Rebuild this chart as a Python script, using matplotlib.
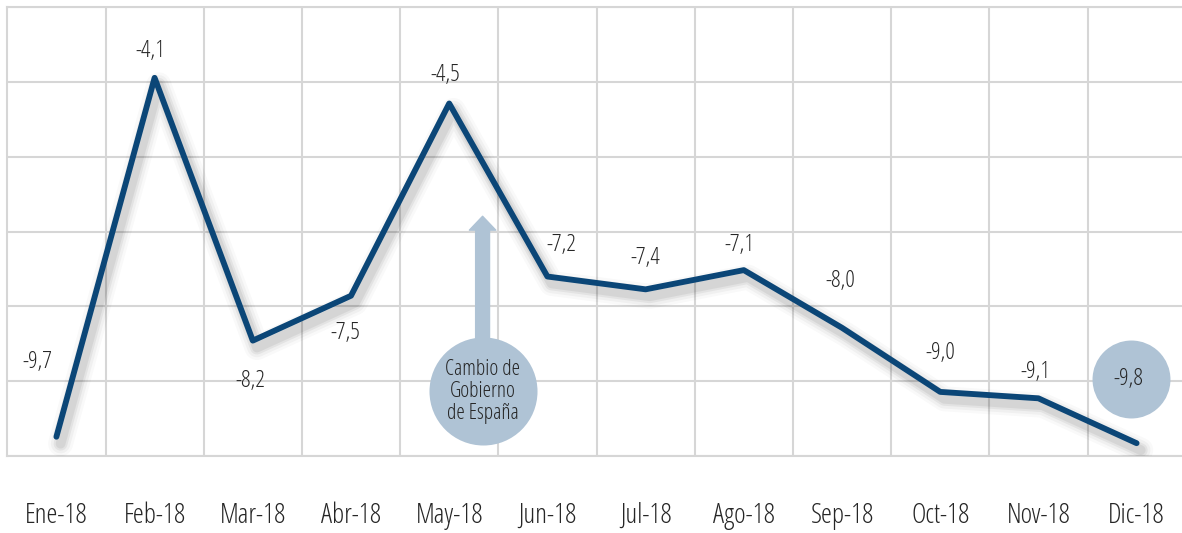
import numpy as np
import matplotlib
matplotlib.use('Agg')
import matplotlib.pyplot as plt
import matplotlib.patheffects as pe
from matplotlib.transforms import offset_copy

# Datos
meses = ['Ene-18', 'Feb-18', 'Mar-18', 'Abr-18', 'May-18', 'Jun-18',
         'Jul-18', 'Ago-18', 'Sep-18', 'Oct-18', 'Nov-18', 'Dic-18']
valores = [-9.7, -4.1, -8.2, -7.5, -4.5, -7.2, -7.4, -7.1, -8.0, -9.0, -9.1, -9.8]

# desplazamiento de cada etiqueta respecto a su punto (puntos tipograficos)
etiqueta_dx = [-14, -3.5, -1.5, -4, -3, 10, 0, -3.5, -1.5, 0, -2.5, -6]
etiqueta_dy = [54, 19, -29, -27, 20.5, 22.5, 22.5, 18, 34, 28, 19, 46]

# posicion de la nota "Cambio de Gobierno"
nota_x = 4.34
nota_y = -8.99
nota_punta = -6.26
nota_texto = 'Cambio de\nGobierno\nde España'

color_linea = '#0b4677'
color_circulo = '#afc3d5'
color_texto = '#262626'
color_grid = '#d6d6d6'

plt.rcParams['font.family'] = ['Open Sans', 'DejaVu Sans']
plt.rcParams['font.weight'] = 300
plt.rcParams['font.stretch'] = 'condensed'

fig = plt.figure(figsize=(11.82, 5.33), dpi=100)
ax = fig.add_axes([7.3 / 1182, (533 - 456) / 533, 1178.4 / 1182, 448.7 / 533])

x = np.arange(len(meses))

ax.set_xlim(-0.5, 11.5)
ax.set_ylim(-10, -3)
ax.set_yticks(np.linspace(-10, -3, 7))
ax.set_yticklabels([])
ax.set_xticks(x)
ax.set_xticklabels(meses, fontsize=20, color=color_texto)
ax.set_xticks(x[:-1] + 0.5, minor=True)
ax.tick_params(axis='x', which='both', length=0, pad=33)
ax.tick_params(axis='y', length=0)
ax.grid(True, axis='y', color=color_grid, lw=1.5)
ax.grid(True, axis='x', which='minor', color=color_grid, lw=1.5)
for lado in ['top', 'left', 'bottom']:
    ax.spines[lado].set_color(color_grid)
    ax.spines[lado].set_linewidth(1.5)
ax.spines['right'].set_visible(False)
ax.set_axisbelow(True)

# sombra difusa de la linea
sombra = []
for w, a in [(18, 0.025), (14, 0.035), (10, 0.05), (7, 0.06)]:
    sombra.append(pe.SimpleLineShadow(offset=(3, -5), shadow_color='black', alpha=a, linewidth=w))
sombra.append(pe.Normal())

ax.plot(x, valores, color=color_linea, lw=4.2, solid_joinstyle='round',
        solid_capstyle='round', path_effects=sombra, zorder=4)

# etiquetas de datos
for i, v in enumerate(valores):
    txt = f'{v:.1f}'.replace('.', ',')
    if i == len(valores) - 1:
        tr = offset_copy(ax.transData, fig=fig, x=etiqueta_dx[i] + 2, y=etiqueta_dy[i], units='points')
        ax.scatter([x[i]], [v], s=3150, color=color_circulo, transform=tr, zorder=5, linewidths=0)
    ax.annotate(txt, (x[i], v), xytext=(etiqueta_dx[i], etiqueta_dy[i]),
                textcoords='offset points', ha='center', va='center',
                fontsize=17, color=color_texto, zorder=6)

# nota con flecha
ax.scatter([nota_x], [nota_y], s=6050, color=color_circulo, zorder=3, linewidths=0)
ax.annotate('', xy=(nota_x, nota_punta), xytext=(nota_x, nota_y),
            arrowprops=dict(arrowstyle='simple,head_width=1.9,head_length=1.0,tail_width=1.0',
                            color=color_circulo, shrinkA=36, shrinkB=0, mutation_scale=10),
            zorder=3)
ax.text(nota_x, nota_y, nota_texto, ha='center', va='center', fontsize=15.5,
        color=color_texto, linespacing=1.05, zorder=6)

plt.savefig('out.png', dpi=100)
